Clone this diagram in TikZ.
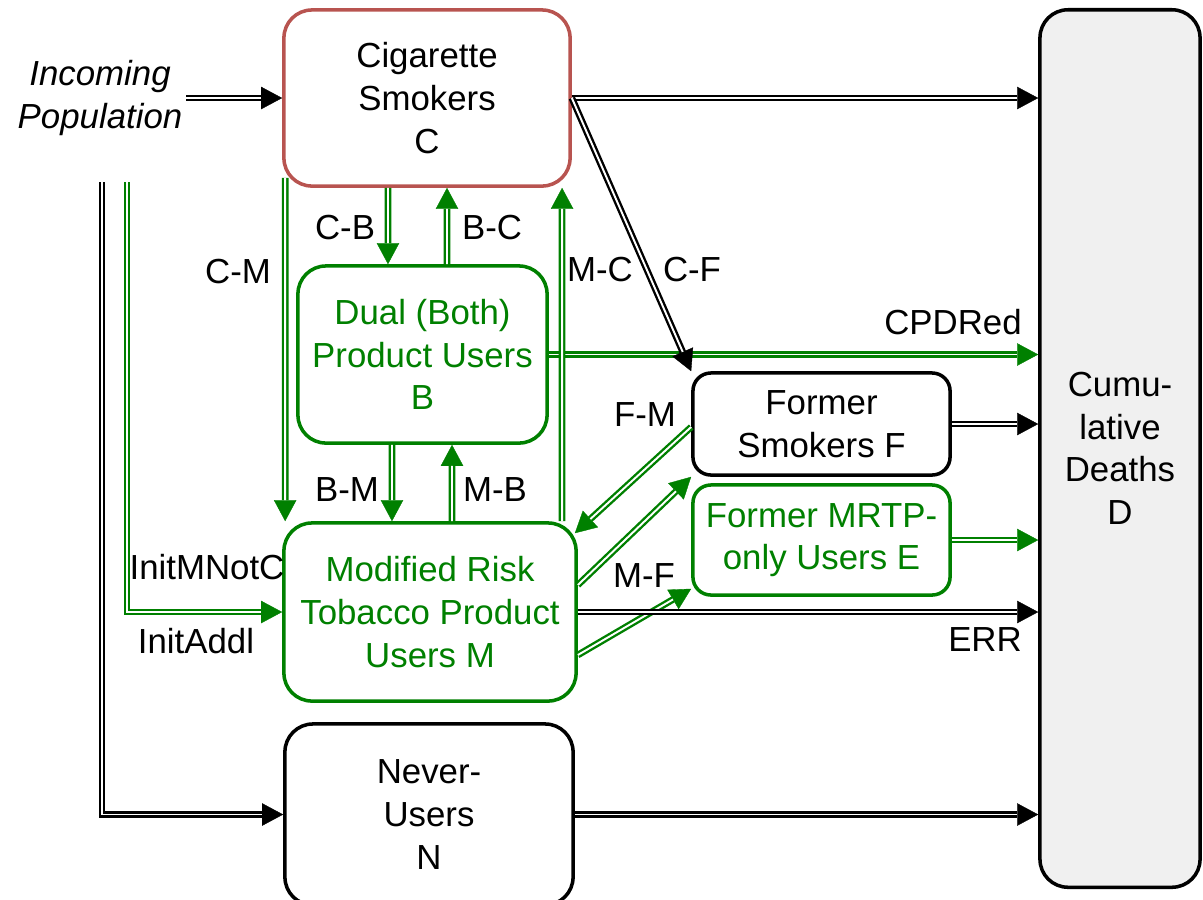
\documentclass[tikz,border=0pt]{standalone}
\usepackage{fontspec}
\setmainfont{Liberation Sans}
\usetikzlibrary{arrows.meta}

\definecolor{smokered}{HTML}{B85450}
\definecolor{mrtpgreen}{HTML}{008000}
\definecolor{deathgray}{HTML}{F0F0F0}

\begin{document}
\begin{tikzpicture}[x=0.01cm, y=-0.01cm,
   font=\fontsize{9.9}{12.1}\selectfont,
   box/.style={rectangle, draw, line width=1pt, rounded corners=0.28cm,
    align=center, inner sep=0pt},
   smallbox/.style={box, rounded corners=0.18cm},
   greenbox/.style={draw=mrtpgreen, text=mrtpgreen},
   flow/.style={line width=1.9pt,
    -{Triangle[length=6pt,width=6.4pt,line width=0.1pt]},
    postaction={draw=white, line width=0.55pt, -, shorten >=6pt}},
   gflow/.style={flow, draw=mrtpgreen}
    ]

    \useasboundingbox (0,0) rectangle (1203,899);

    % Boxes:
    \node[box, draw=smokered, minimum width=2.86cm, minimum height=1.76cm]
        at (427,98) (C) {Cigarette\\Smokers\\C};
    \node[box, greenbox, minimum width=2.49cm, minimum height=1.77cm]
        at (422.5,354.5) (B) {Dual (Both)\\Product Users\\B};
    \node[box, greenbox, minimum width=2.92cm, minimum height=1.78cm]
        at (430,612) (M) {Modified Risk\\Tobacco Product\\Users M};
    \node[box, minimum width=2.88cm, minimum height=1.81cm]
        at (429,814.5) (N) {Never-\\Users\\N};
    \node[smallbox, minimum width=2.57cm, minimum height=1.02cm]
        at (821.5,424) (F) {Former\\Smokers F};
    \node[smallbox, greenbox, minimum width=2.57cm, minimum height=1.10cm]
        at (821.5,540) (E) {Former MRTP-\\only Users E};
    \node[box, fill=deathgray, minimum width=1.60cm, minimum height=8.77cm]
        at (1120,448.5) (D) {Cumu-\\lative\\Deaths\\D};

    % incoming population
    \node[align=center, inner sep=1pt] at (100,98) (inc)
        {\textit{Incoming}\\\textit{Population}};
    \coordinate (popN) at (102,182);
    \coordinate (popM) at (127,182);

    % labels
    \node at (345,228) (lCB) {C-B};
    \node at (492,228) (lBC) {B-C};
    \node at (238,272) (lCM) {C-M};
    \node at (600,270) (lMC) {M-C};
    \node at (692,270) (lCF) {C-F};
    \node at (953,322) (lCPD) {CPDRed};
    \node at (645,415) (lFM) {F-M};
    \node at (347,490) (lBM) {B-M};
    \node at (495,490) (lMB) {M-B};
    \node at (644,576) (lMF) {M-F};
    \node at (207,567) (lInitM) {InitMNotC};
    \node at (196,641) (lInitA) {InitAddl};
    \node at (985,640) (lERR) {ERR};

    % arrows

    \draw[flow] (inc.east) -- (C.west);
    \draw[flow] (popN) |- (N.west);
    \draw[gflow] (popM) |- (M.west);

    \draw[gflow] ([shift={(3,-10)}]C.south west) -- ([shift={(3,0)}]M.north west); % C-M
    \draw[gflow] ([xshift=-0.39cm]C.south) -- ([xshift=-0.345cm]B.north); % C-B
    \draw[gflow] ([xshift=0.245cm]B.north) -- ([xshift=0.2cm]C.south); % B-C
    \draw[gflow] ([xshift=-0.305cm]B.south) -- ([xshift=-0.38cm]M.north); % B-M
    \draw[gflow] ([xshift=0.22cm]M.north) -- ([xshift=0.295cm]B.south); % M-B
    \draw[gflow] (B.east) -- (B.east -| D.west); % CPDRed
    \draw[gflow] ([xshift=1.32cm]M.north) -- ([xshift=1.35cm]C.south); % M-C

    \draw[flow] (C.east) -- (C.east -| D.west);
    \draw[flow] (C.east) -- (F.north west); % C-F

    \draw[gflow] ([shift={(0,3)}]F.west) -- ([shift={(-3,12)}]M.north east); % F-M
    \draw[gflow] ([shift={(0,-27)}]M.east) -- (F.south west);
    \draw[gflow] ([shift={(0,43)}]M.east) -- ([shift={(0,-8)}]E.south west); % M-F
    \draw[flow] (M.east) -- (M.east -| D.west); % ERR

    \draw[flow] (F.east) -- (F.east -| D.west);
    \draw[gflow] (E.east) -- (E.east -| D.west);
    \draw[flow] (N.east) -- (N.east -| D.west);

\end{tikzpicture}
\end{document}
